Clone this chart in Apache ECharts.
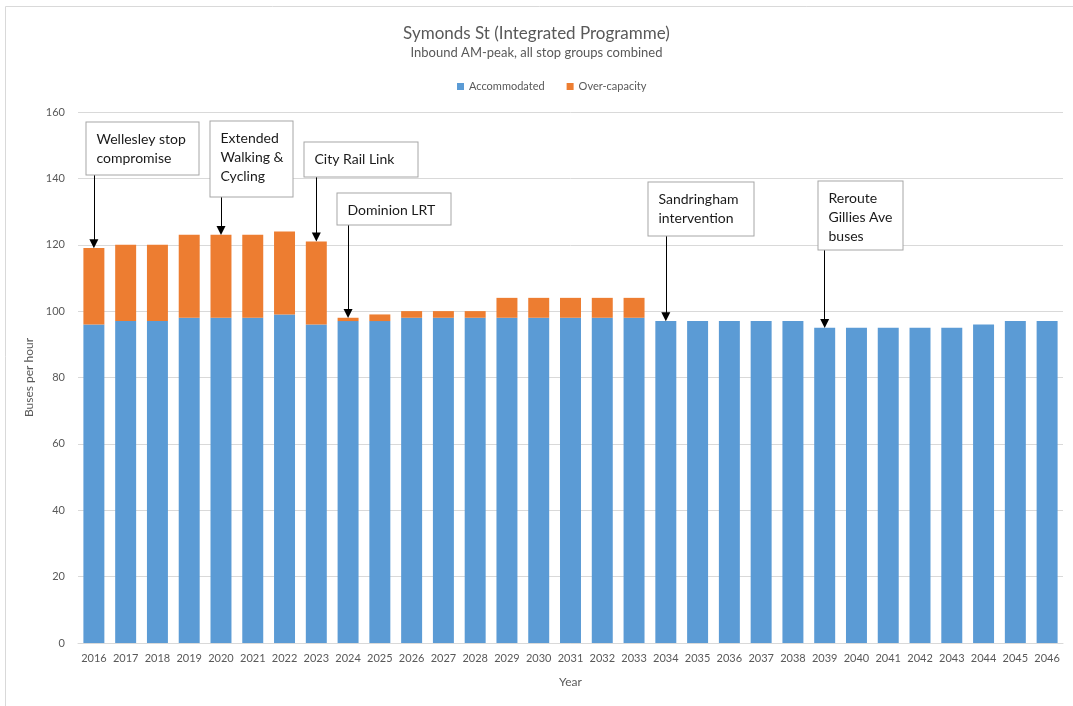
<!DOCTYPE html>
<html>
<head>
<meta charset="utf-8">
<script src="https://cdn.jsdelivr.net/npm/echarts@6/dist/echarts.min.js"></script>
<style>
  html, body { margin: 0; padding: 0; background: #fff; }
  #main { width: 1073px; height: 706px; }
</style>
</head>
<body>
<div id="main"></div>
<script>
// data
const years = ['2016', '2017', '2018', '2019', '2020', '2021', '2022', '2023', '2024', '2025',
  '2026', '2027', '2028', '2029', '2030', '2031', '2032', '2033', '2034', '2035',
  '2036', '2037', '2038', '2039', '2040', '2041', '2042', '2043', '2044', '2045', '2046']
const accommodated = [96, 97, 97, 98, 98, 98, 99, 96, 97, 97,
  98, 98, 98, 98, 98, 98, 98, 98, 97, 97,
  97, 97, 97, 95, 95, 95, 95, 95, 96, 97, 97]
const overCapacity = [23, 23, 23, 25, 25, 25, 25, 25, 1, 2,
  2, 2, 2, 6, 6, 6, 6, 6, 0, 0,
  0, 0, 0, 0, 0, 0, 0, 0, 0, 0, 0]
const yTicks = [0, 20, 40, 60, 80, 100, 120, 140, 160]

// annotations: which year, the text, and the value where the arrow starts
const noteYears = ['2016', '2020', '2023', '2024', '2034', '2039']
const noteTexts = ['Wellesley stop\ncompromise', 'Extended\nWalking &\nCycling', 'City Rail Link',
  'Dominion LRT', 'Sandringham\nintervention', 'Reroute\nGillies Ave\nbuses']
const noteFrom = [141.2, 134.6, 140.7, 126.3, 122.9, 118.7]

// box layout (px): shift of box left edge from arrow, box width, box height
const noteBoxes = [
  { dx: -8, w: 112, h: 52 },
  { dx: -11, w: 82, h: 75 },
  { dx: -12, w: 113, h: 34 },
  { dx: -11, w: 113, h: 31 },
  { dx: -18, w: 105, h: 53 },
  { dx: -7, w: 84, h: 68 }
]

const FONT = 'Lato, "Open Sans", sans-serif'
const GREY = '#595959'

let arrows = noteYears.map(function (year, i) {
  let idx = years.indexOf(year)
  let top = accommodated[idx] + overCapacity[idx]
  return [{ coord: [year, noteFrom[i]] }, { coord: [year, top + 1.3] }]
})

let chart = echarts.init(document.getElementById('main'))
chart.setOption({
  animation: false,
  textStyle: { fontFamily: FONT },
  title: {
    text: 'Symonds St (Integrated Programme)',
    subtext: 'Inbound AM-peak, all stop groups combined',
    left: 'center',
    top: 20,
    itemGap: 4,
    textStyle: { fontSize: 17, fontWeight: 'normal', color: GREY, fontFamily: FONT },
    subtextStyle: { fontSize: 13, color: GREY, fontFamily: FONT }
  },
  legend: {
    top: 76,
    left: 452,
    icon: 'rect',
    itemWidth: 7,
    itemHeight: 7,
    itemGap: 22,
    textStyle: { fontSize: 11, color: GREY, fontFamily: FONT },
    data: ['Accommodated', 'Over-capacity']
  },
  grid: { left: 78, right: 10, top: 112, bottom: 63 },
  xAxis: {
    type: 'category',
    data: years,
    name: 'Year',
    nameLocation: 'middle',
    nameGap: 33,
    nameTextStyle: { fontSize: 12, color: GREY },
    axisLine: { lineStyle: { color: '#d9d9d9' } },
    axisTick: { show: false },
    axisLabel: { fontSize: 11, color: GREY, margin: 10, interval: 0 }
  },
  yAxis: {
    type: 'value',
    min: yTicks[0],
    max: yTicks[yTicks.length - 1],
    interval: yTicks[1] - yTicks[0],
    name: 'Buses per hour',
    nameLocation: 'middle',
    nameGap: 35,
    nameTextStyle: { fontSize: 12, color: GREY },
    axisLine: { show: false },
    axisTick: { show: false },
    axisLabel: { fontSize: 11, color: GREY, margin: 13 },
    splitLine: { lineStyle: { color: '#d9d9d9' } }
  },
  series: [
    {
      name: 'Accommodated',
      type: 'bar',
      stack: 'total',
      barCategoryGap: '34%',
      itemStyle: { color: '#5b9bd5' },
      data: accommodated
    },
    {
      name: 'Over-capacity',
      type: 'bar',
      stack: 'total',
      barCategoryGap: '34%',
      itemStyle: { color: '#ed7d31' },
      data: overCapacity,
      markLine: {
        silent: true,
        z: 10,
        symbol: ['none', 'triangle'],
        symbolSize: 9,
        symbolRotate: 180,
        label: { show: false },
        itemStyle: { color: '#000' },
        lineStyle: { color: '#000', width: 1, type: 'solid' },
        emphasis: { disabled: true },
        data: arrows
      }
    }
  ]
})

// annotation boxes placed through the grid's own scales
let boxes = noteYears.map(function (year, i) {
  let p = chart.convertToPixel({ gridIndex: 0 }, [year, noteFrom[i]])
  let b = noteBoxes[i]
  return {
    type: 'text',
    x: Math.round(p[0] + b.dx) + 0.5,
    y: Math.round(p[1] - b.h) + 0.5,
    z: 100,
    silent: true,
    style: {
      text: noteTexts[i],
      fontSize: 14,
      fontFamily: FONT,
      fill: '#1a1a1a',
      lineHeight: 19,
      backgroundColor: '#fff',
      borderColor: '#a6a6a6',
      borderWidth: 1,
      padding: [7, 8, 5, 10],
      width: b.w - 18,
      height: b.h - 12
    }
  }
})
boxes.push({
  type: 'rect',
  silent: true,
  z: -1,
  shape: { x: 5.5, y: 6.5, width: 1200, height: 800 },
  style: { fill: 'none', stroke: '#d9d9d9', lineWidth: 1 }
})
chart.setOption({ graphic: boxes })
</script>
</body>
</html>
